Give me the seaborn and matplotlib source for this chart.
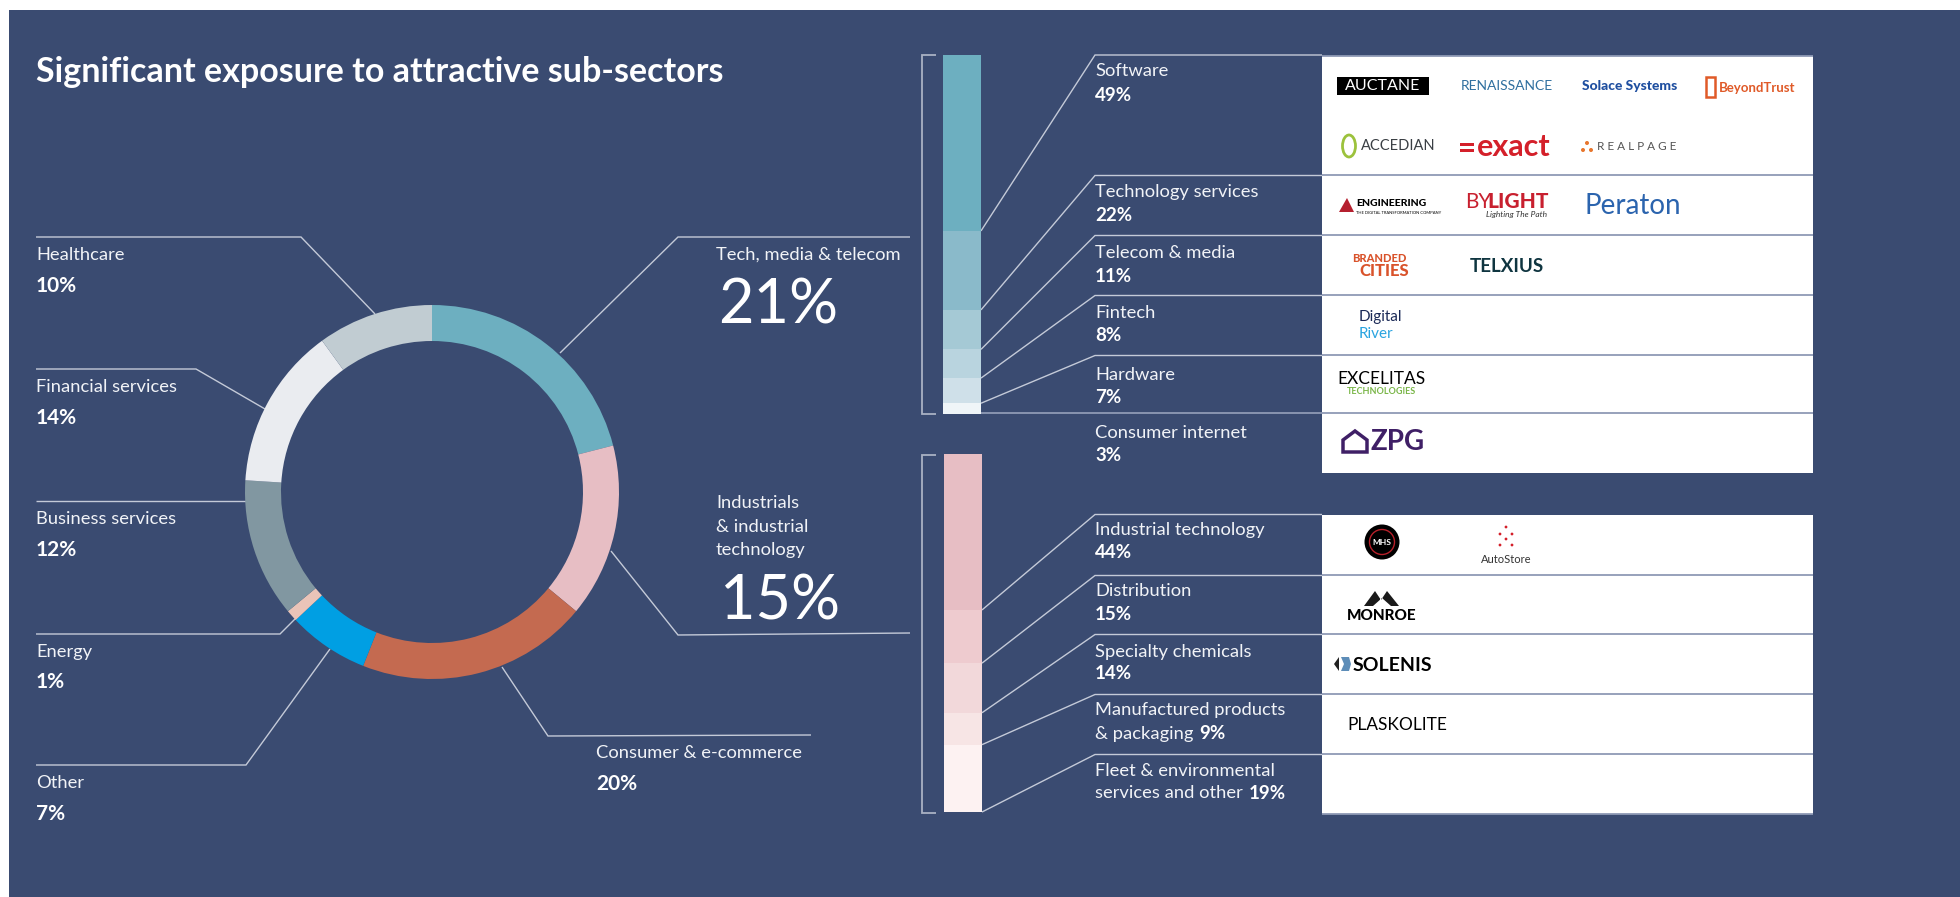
import matplotlib
matplotlib.use("Agg")
import matplotlib.pyplot as plt
import seaborn as sns
from matplotlib.patches import Rectangle, Circle, Ellipse, Polygon

sns.set_theme(style="white")
plt.rcParams["font.family"] = ["Lato", "DejaVu Sans"]

W, H = 1960, 897
BG = "#3A4B71"
LINE = "#C4CAD8"
ROW = "#8F9AB5"

# donut, clockwise from 12 o'clock
sectors = ["Tech, media & telecom", "Industrials & industrial technology", "Consumer & e-commerce",
           "Other", "Energy", "Business services", "Financial services", "Healthcare"]
sector_share = [21, 15, 20, 7, 1, 12, 14, 10]
sector_colors = ["#6DAFC0", "#E7BEC4", "#C46A50", "#009FE3", "#EAC4B8", "#8197A1", "#EAECF0", "#C1CCD2"]

tech_names = ["Software", "Technology services", "Telecom & media", "Fintech", "Hardware", "Consumer internet"]
tech_share = [49, 22, 11, 8, 7, 3]
tech_colors = ["#6DAFC0", "#8ABACA", "#A5C9D5", "#B9D4DF", "#CFE0E9", "#EFF5F8"]

ind_names = ["Industrial technology", "Distribution", "Specialty chemicals",
             "Manufactured products", "Fleet & environmental"]
ind_share = [44, 15, 14, 9, 19]
ind_colors = ["#E7BEC4", "#EECBCF", "#F2D8DA", "#F7E5E5", "#FDF2F2"]


def pxAxes(fig, x0, y0, x1, y1):
    ax = fig.add_axes([x0 / W, 1 - y1 / H, (x1 - x0) / W, (y1 - y0) / H])
    ax.patch.set_alpha(0)
    return ax


def stackedColumn(fig, box, shares, colors):
    ax = pxAxes(fig, *box)
    bottom = 0
    for share, color in zip(shares, colors):
        sns.barplot(x=["all"], y=[share], bottom=bottom, color=color, saturation=1,
                    width=1, linewidth=0, ax=ax)
        bottom += share
    ax.set_xlim(-0.5, 0.5)
    ax.set_ylim(bottom, 0)
    ax.axis("off")


def boundaries(box, shares):
    # pixel y of the lower edge of every segment
    total = sum(shares)
    out, cum = [], 0
    for share in shares:
        cum += share
        out.append(box[1] + (box[3] - box[1]) * cum / total)
    return out


def line(ax, xs, ys, color=LINE, lw=1.0):
    ax.plot(xs, ys, color=color, lw=lw, solid_capstyle="butt", solid_joinstyle="miter")


def label(ax, x, y, text, size=13.2, weight="normal", color="#F1F3F7", **kw):
    kw.setdefault("ha", "left")
    return ax.text(x, y + 1.5, text, fontsize=size, fontweight=weight, color=color, va="center", **kw)


def mixed(ax, fig, x, y, light, bold):
    t = label(ax, x, y, light)
    box = t.get_window_extent(fig.canvas.get_renderer())
    label(ax, box.x1 + 6, y, bold, size=13.5, weight="bold", color="white")


fig = plt.figure(figsize=(W / 100, H / 100), dpi=100, facecolor="white")
base = pxAxes(fig, 0, 0, W, H)
base.set_xlim(0, W)
base.set_ylim(H, 0)
base.axis("off")
base.add_patch(Rectangle((9, 10), W - 9, H - 10, color=BG, lw=0))

label(base, 36, 70, "Significant exposure to attractive sub-sectors", size=24.5, weight="bold", color="white")

# donut
pie = pxAxes(fig, 245, 305, 619, 679)
pie.pie(sector_share, colors=sector_colors, startangle=90, counterclock=False, radius=1,
        wedgeprops={"width": 36 / 187, "linewidth": 0})
pie.set_xlim(-1, 1)
pie.set_ylim(-1, 1)

# donut leaders
line(base, [36, 301, 375], [237, 237, 314])
line(base, [36, 196, 265], [369, 369, 409])
line(base, [36, 246], [501, 501])
line(base, [36, 280, 296], [634, 634, 618])
line(base, [36, 246, 330], [765, 765, 649])
line(base, [502, 548, 811], [667, 736, 735])
line(base, [560, 678, 910], [353, 237, 237])
line(base, [611, 678, 910], [551, 635, 633])

# donut labels
left_labels = [("Healthcare", "10%", 253, 284), ("Financial services", "14%", 385, 416),
               ("Business services", "12%", 518, 548), ("Energy", "1%", 650, 681),
               ("Other", "7%", 782, 812)]
for name, pct, y1, y2 in left_labels:
    label(base, 36, y1, name)
    label(base, 36, y2, pct, size=15, weight="bold", color="white")
label(base, 596, 752, "Consumer & e-commerce")
label(base, 596, 782, "20%", size=15, weight="bold", color="white")
label(base, 716, 253, "Tech, media & telecom")
label(base, 718, 304, "21%", size=44, color="white")
label(base, 716, 502, "Industrials")
label(base, 716, 525, "& industrial")
label(base, 716, 548, "technology")
label(base, 720, 600, "15%", size=44, color="white")

# tables on the right
base.add_patch(Rectangle((1322, 56), 491, 417, color="white", lw=0))
base.add_patch(Rectangle((1322, 515), 491, 299, color="white", lw=0))
for y in [175.5, 235.5, 295.5, 355.5, 413.5, 575.5, 634.5, 694.5, 754.5, 814]:
    line(base, [1322, 1813], [y, y], color=ROW, lw=1.3)
line(base, [1322, 1813], [56, 56], color=ROW, lw=1.3)
line(base, [981, 1322], [413.5, 413.5], color=ROW, lw=1.3)

# stacks
tech_box = (943, 55, 981, 414)
ind_box = (944, 454, 982, 812)
stackedColumn(fig, tech_box, tech_share, tech_colors)
stackedColumn(fig, ind_box, ind_share, ind_colors)

# brackets
line(base, [936, 922, 922, 936], [55, 55, 414, 414], color="#A9B2C4", lw=1.3)
line(base, [936, 922, 922, 936], [455, 455, 813, 813], color="#A9B2C4", lw=1.3)

# stack leaders follow the segment edges
tech_edges = boundaries(tech_box, tech_share)
for edge, top in zip(tech_edges[:5], [55, 175.5, 235.5, 295.5, 355.5]):
    line(base, [981, 1095, 1322], [edge, top, top])
ind_edges = boundaries(ind_box, ind_share)
for edge, top in zip(ind_edges, [514.5, 575.5, 634.5, 694.5, 754.5]):
    line(base, [982, 1095, 1322], [edge, top, top])

right_labels = [(tech_names[0], tech_share[0], 70, 94), (tech_names[1], tech_share[1], 191, 214),
                (tech_names[2], tech_share[2], 252, 275), (tech_names[3], tech_share[3], 312, 334),
                (tech_names[4], tech_share[4], 373, 396), (tech_names[5], tech_share[5], 431, 454),
                (ind_names[0], ind_share[0], 528, 551), (ind_names[1], ind_share[1], 590, 613),
                (ind_names[2], ind_share[2], 650, 672)]
for name, pct, y1, y2 in right_labels:
    label(base, 1095, y1, name)
    label(base, 1095, y2, f"{pct}%", size=13.5, weight="bold", color="white")
label(base, 1095, 709, "Manufactured products")
mixed(base, fig, 1095, 732, "& packaging", f"{ind_share[3]}%")
label(base, 1095, 770, "Fleet & environmental")
mixed(base, fig, 1095, 792, "services and other", f"{ind_share[4]}%")

# company marks
base.add_patch(Rectangle((1337, 77), 92, 18, color="black", lw=0))
label(base, 1383, 84.5, "AUCTANE", size=11.5, color="white", ha="center")
label(base, 1461, 84.5, "RENAISSANCE", size=10, color="#2F6F9F")
label(base, 1582, 84, "Solace Systems", size=10, weight="black", color="#1F4FA0")
base.add_patch(Rectangle((1706, 77), 9, 20, fill=False, ec="#E05A28", lw=1.8))
label(base, 1719, 87, "BeyondTrust", size=9.5, weight="bold", color="#E05A28")

base.add_patch(Ellipse((1349, 146), 13, 22, fill=False, ec="#9CC23C", lw=2))
label(base, 1361, 145, "ACCEDIAN", size=10.5, color="#3A3F44")
base.add_patch(Rectangle((1460, 143), 14, 3, color="#D4202A", lw=0))
base.add_patch(Rectangle((1460, 149), 14, 3, color="#D4202A", lw=0))
label(base, 1477, 145, "exact", size=22, weight="bold", color="#D4202A")
base.add_patch(Circle((1583, 150), 2, color="#E8762D", lw=0))
base.add_patch(Circle((1591, 150), 2, color="#E8762D", lw=0))
base.add_patch(Circle((1587, 143), 2, color="#E8762D", lw=0))
label(base, 1597, 145.5, "R E A L P A G E", size=8.5, color="#555555")

base.add_patch(Polygon([(1339, 212), (1347, 198), (1354, 212)], color="#B5202F", lw=0))
label(base, 1356, 202, "ENGINEERING", size=7.5, weight="black", color="black")
label(base, 1356, 211, "THE DIGITAL TRANSFORMATION COMPANY", size=3, color="black")
label(base, 1465, 200, "BY", size=15, color="#C8202F")
label(base, 1487, 200, "LIGHT", size=15, weight="black", color="#C8202F")
label(base, 1547, 213, "Lighting The Path", size=6, color="#333333", ha="right", style="italic")
label(base, 1584, 205, "Peraton", size=20, color="#2B64AE")

label(base, 1352, 257, "BRANDED", size=8, weight="black", color="#D9532B")
label(base, 1359, 269, "CITIES", size=12, weight="black", color="#D9532B")
label(base, 1470, 265, "TELXIUS", size=13.5, weight="bold", color="#0F3540")
label(base, 1359, 316, "Digital", size=11, color="#1B2A57")
label(base, 1359, 333, "River", size=11, color="#2AA4E0")
label(base, 1337, 377, "EXCELITAS", size=12.5, color="black")
label(base, 1347, 390, "TECHNOLOGIES", size=6.5, weight="bold", color="#7AB648")
base.add_patch(Polygon([(1343, 452), (1343, 440), (1355, 431), (1367, 440), (1367, 452)],
                       fill=False, ec="#3F1F66", lw=2.5))
label(base, 1370, 441, "ZPG", size=20, weight="bold", color="#3F1F66")

base.add_patch(Circle((1382, 542), 17.5, color="black", lw=0))
base.add_patch(Circle((1382, 542), 12.5, fill=False, ec="#B8202A", lw=1))
label(base, 1382, 541, "MHS", size=6, weight="bold", color="white", ha="center")
for dx, dy in [(0, 527), (-6, 534), (6, 534), (0, 539), (-6, 545), (6, 545)]:
    base.add_patch(Circle((1506 + dx, dy), 1.4, color="#D4202A", lw=0))
label(base, 1506, 558, "AutoStore", size=8, color="#333333", ha="center")
base.add_patch(Polygon([(1364, 606), (1375, 591), (1381, 600), (1387, 591), (1399, 606), (1391, 606),
                        (1382, 598), (1373, 606)], color="#1A1A1A", lw=0))
label(base, 1347, 614, "MONROE", size=11, weight="black", color="black")
base.add_patch(Polygon([(1334, 664), (1339, 657), (1339, 671)], color="#222222", lw=0))
base.add_patch(Polygon([(1341, 657), (1349, 657), (1351, 664), (1349, 671), (1341, 671), (1344, 664)],
                       color="#5D8DB8", lw=0))
label(base, 1353, 664, "SOLENIS", size=14, weight="bold", color="black")
label(base, 1347, 723, "PLASKOLITE", size=12.5, color="black")

fig.savefig("out.png", dpi=100, facecolor=fig.get_facecolor())
